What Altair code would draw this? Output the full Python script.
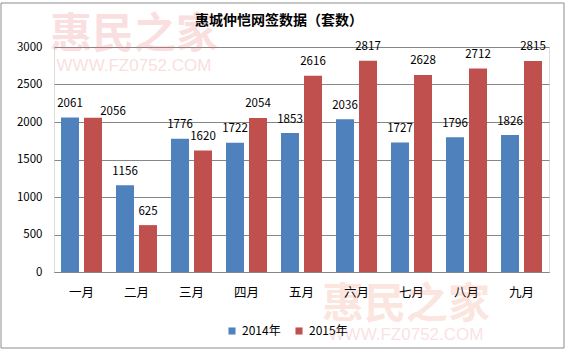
import altair as alt
import pandas as pd

months = ["一月", "二月", "三月", "四月", "五月", "六月", "七月", "八月", "九月"]
series = ["2014年", "2015年"]
values_2014 = [2061, 1156, 1776, 1722, 1853, 2036, 1727, 1796, 1826]
values_2015 = [2056, 625, 1620, 2054, 2616, 2817, 2628, 2712, 2815]
y_ticks = [0, 500, 1000, 1500, 2000, 2500, 3000]
title_text = "惠城仲恺网签数据（套数）"
watermark_cn = "惠民之家"
watermark_en = "WWW.FZ0752.COM"

rows = []
for m, a, b in zip(months, values_2014, values_2015):
    rows.append({"month": m, "series": series[0], "value": a})
    rows.append({"month": m, "series": series[1], "value": b})
df = pd.DataFrame(rows)

CJK = "Noto Sans CJK SC"
GRID = "#868686"
W, H = 495, 225

x_enc = alt.X(
    "month:N", sort=months,
    scale=alt.Scale(paddingInner=0, paddingOuter=0),
    axis=alt.Axis(title=None, labelAngle=0, ticks=False, domain=True,
                  domainColor=GRID, domainWidth=1, labelPadding=14,
                  labelFont=CJK, labelFontSize=12.5, labelColor="black", grid=False),
)
xoff_enc = alt.XOffset("series:N", sort=series,
                       scale=alt.Scale(paddingInner=0.217, paddingOuter=0.304))
y_enc = alt.Y(
    "value:Q",
    scale=alt.Scale(domain=[0, 3000], nice=False),
    axis=alt.Axis(title=None, values=y_ticks, format="d", ticks=False, domain=False,
                  grid=True, gridColor=GRID, gridWidth=1, gridOpacity=1,
                  labelPadding=12, labelFont=CJK, labelFontSize=11.5,
                  labelColor="black"),
)
color_enc = alt.Color(
    "series:N", sort=series,
    scale=alt.Scale(domain=series, range=["#4F81BD", "#C0504D"]),
    legend=alt.Legend(orient="none", direction="horizontal", legendX=172,
                      legendY=278, title=None, symbolType="square",
                      symbolSize=50, symbolStrokeWidth=0, symbolOpacity=1,
                      labelFont=CJK, labelFontSize=12, labelColor="black",
                      labelOffset=4, columnPadding=12, padding=0),
)

base = alt.Chart(df).encode(x=x_enc, xOffset=xoff_enc, y=y_enc)

bars = base.mark_bar(size=18).encode(color=color_enc)

normal = "!(datum.month == '一月' && datum.series == '2015年')"
labels = base.transform_filter(normal).mark_text(
    baseline="middle", dy=-13.5, font=CJK, fontSize=11.5, color="black"
).encode(text="value:Q")
labels_shift = base.transform_filter("!(" + normal + ")").mark_text(
    baseline="middle", dx=20, dy=-6, font=CJK, fontSize=11.5, color="black"
).encode(text="value:Q")

wm_df = pd.DataFrame({"cn": [watermark_cn], "en": [watermark_en], "title": [title_text]})
wm1 = alt.Chart(wm_df).mark_text(
    font=CJK, fontSize=42, fontWeight="bold", color="#E87070", opacity=0.22,
    align="center", baseline="middle"
).encode(text="cn:N", x=alt.value(80), y=alt.value(-12))
wm2 = alt.Chart(wm_df).mark_text(
    font="Liberation Sans", fontSize=17, color="#E87070", opacity=0.22,
    align="center", baseline="middle"
).encode(text="en:N", x=alt.value(80), y=alt.value(19))
wm3 = alt.Chart(wm_df).mark_text(
    font=CJK, fontSize=42, fontWeight="bold", color="#F08060", opacity=0.2,
    align="center", baseline="middle"
).encode(text="cn:N", x=alt.value(352), y=alt.value(258))
wm4 = alt.Chart(wm_df).mark_text(
    font="Liberation Sans", fontSize=17, color="#E87070", opacity=0.2,
    align="center", baseline="middle"
).encode(text="en:N", x=alt.value(352), y=alt.value(288))

title = alt.Chart(wm_df).mark_text(
    font=CJK, fontSize=14, fontWeight="bold", color="black",
    align="center", baseline="middle"
).encode(text="title:N", x=alt.value(225), y=alt.value(-26))

border = alt.Chart(wm_df).mark_rect(fill=None, stroke="#8C8C8C", strokeWidth=1).encode(
    x=alt.value(-53), x2=alt.value(510), y=alt.value(-44), y2=alt.value(301)
)

chart = alt.layer(border, wm1, wm2, wm3, wm4, bars, labels, labels_shift, title).properties(
    width=W, height=H,
    autosize=alt.AutoSizeParams(type="none"),
    padding={"left": 54, "top": 47, "right": 18, "bottom": 80},
).configure_view(stroke=None).configure(background="white")

chart.save("out.html", embed_options={"renderer": "svg", "actions": False})
